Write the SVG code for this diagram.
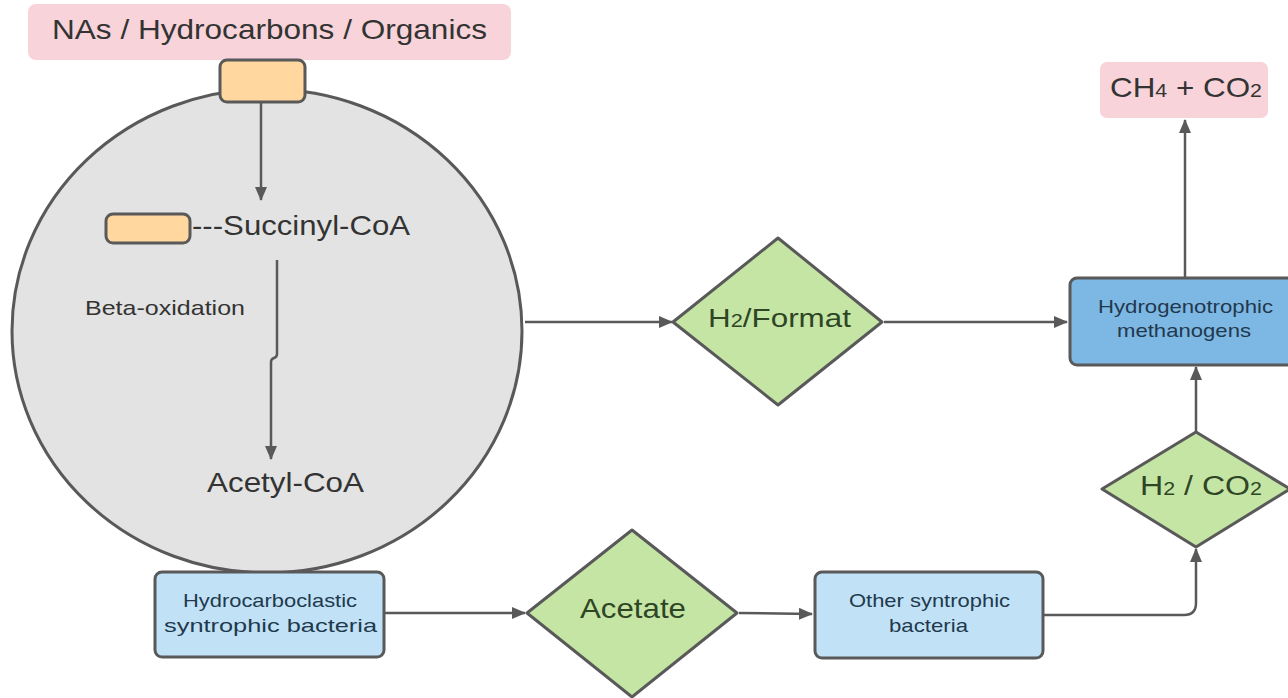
<svg xmlns="http://www.w3.org/2000/svg" width="1288" height="698" viewBox="0 0 1288 698">
<defs>
<marker id="ah" viewBox="0 0 14 12" refX="13" refY="6" markerWidth="14" markerHeight="12" markerUnits="userSpaceOnUse" orient="auto">
<path d="M0,0 L14,6 L0,12 Z" fill="#595959"/>
</marker>
<style>
.t{font-family:"Liberation Sans",Arial,sans-serif;fill:#333}
.edge{fill:none;stroke:#595959;stroke-width:2.5;marker-end:url(#ah)}
.pink{fill:#f8d3da}
.orange{fill:#ffd79f;stroke:#595959;stroke-width:3}
.green{fill:#c5e5a5;stroke:#595959;stroke-width:3;stroke-linejoin:round}
.gt{font-family:"Liberation Sans",Arial,sans-serif;fill:#2f4526}
.bt{font-family:"Liberation Sans",Arial,sans-serif;fill:#22394d;font-size:19px}
.lb{fill:#c1e2f6;stroke:#595959;stroke-width:3}
.db{fill:#7db7e4;stroke:#595959;stroke-width:3}
</style>
</defs>
<rect width="1288" height="698" fill="#ffffff"/>

<g id="input">
<rect class="pink" x="28" y="4" width="483" height="56" rx="8"/>
<text class="t" x="52" y="39" font-size="28" textLength="435" lengthAdjust="spacingAndGlyphs">NAs / Hydrocarbons / Organics</text>
</g>

<g id="cell">
<ellipse cx="267" cy="331" rx="255" ry="242" fill="#e3e3e3" stroke="#595959" stroke-width="3"/>
<rect class="orange" x="220" y="60" width="85" height="42" rx="7"/>
<rect class="orange" x="106" y="214" width="84" height="29" rx="7"/>
<text class="t" x="192" y="235" font-size="28" textLength="218" lengthAdjust="spacingAndGlyphs">---Succinyl-CoA</text>
<text class="t" x="85" y="315" font-size="21" textLength="160" lengthAdjust="spacingAndGlyphs">Beta-oxidation</text>
<text class="t" x="207" y="492" font-size="28" textLength="157" lengthAdjust="spacingAndGlyphs">Acetyl-CoA</text>
</g>

<g id="h2format">
<polygon class="green" points="778,238 882,322 778,405 673,322"/>
<text class="gt" x="708" y="327" font-size="26" textLength="143" lengthAdjust="spacingAndGlyphs">H<tspan font-size="18">2</tspan>/Format</text>
</g>

<g id="methanogens">
<rect class="db" x="1070" y="278" width="230" height="87" rx="7"/>
<text class="bt" x="1098" y="313" textLength="175" lengthAdjust="spacingAndGlyphs">Hydrogenotrophic</text>
<text class="bt" x="1117" y="337" textLength="134" lengthAdjust="spacingAndGlyphs">methanogens</text>
</g>

<g id="products">
<rect class="pink" x="1100" y="62" width="168" height="56" rx="7"/>
<text class="t" x="1110" y="97" font-size="28" textLength="152" lengthAdjust="spacingAndGlyphs">CH<tspan font-size="19">4</tspan> + CO<tspan font-size="19">2</tspan></text>
</g>

<g id="h2co2">
<polygon class="green" points="1196,432 1290,489 1196,547 1102,489"/>
<text class="gt" x="1140" y="495" font-size="27" textLength="122" lengthAdjust="spacingAndGlyphs">H<tspan font-size="18">2</tspan> / CO<tspan font-size="18">2</tspan></text>
</g>

<g id="hydrocarboclastic">
<rect class="lb" x="155" y="572" width="229" height="85" rx="7"/>
<text class="bt" x="183" y="607" textLength="174" lengthAdjust="spacingAndGlyphs">Hydrocarboclastic</text>
<text class="bt" x="164" y="632" textLength="213" lengthAdjust="spacingAndGlyphs">syntrophic bacteria</text>
</g>

<g id="acetate">
<polygon class="green" points="632,530 737,613 632,697 527,613"/>
<text class="gt" x="580" y="618" font-size="28" textLength="106" lengthAdjust="spacingAndGlyphs">Acetate</text>
</g>

<g id="other">
<rect class="lb" x="815" y="572" width="228" height="86" rx="7"/>
<text class="bt" x="849" y="607" textLength="161" lengthAdjust="spacingAndGlyphs">Other syntrophic</text>
<text class="bt" x="889" y="632" textLength="79" lengthAdjust="spacingAndGlyphs">bacteria</text>
</g>

<g id="connectors">
<path class="edge" d="M261,102 L261,200"/>
<path class="edge" d="M277,260 L277,354 Q277,357 274,358 Q271,359 271,362 L271,459"/>
<path class="edge" d="M525,322 L672,322"/>
<path class="edge" d="M884,322 L1067,322"/>
<path class="edge" d="M1185,278 L1185,120"/>
<path class="edge" d="M1196,432 L1196,367"/>
<path class="edge" d="M1043,615 L1184,615 Q1196,615 1196,603 L1196,549"/>
<path class="edge" d="M384,613 L525,613"/>
<path class="edge" d="M739,613 L812,614"/>
</g>
</svg>
